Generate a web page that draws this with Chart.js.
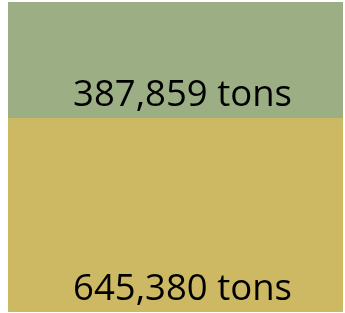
<!DOCTYPE html>
<html>
<head>
<meta charset="utf-8">
<script src="https://cdn.jsdelivr.net/npm/chart.js@4"></script>
<style>
  html, body { margin: 0; padding: 0; background: #fff; }
  #wrap { width: 345px; height: 313px; position: relative; }
</style>
</head>
<body>
<div id="wrap"><canvas id="chart"></canvas></div>
<script>
// data
const categories = ['Total'];
const seriesNames = ['Bottom', 'Top'];
const bottomValues = [645380];
const topValues = [387859];
const unit = 'tons';

const colors = ['#cdb964', '#9caf84'];
const total = bottomValues[0] + topValues[0];

// draw the value label near the bottom of each segment
const segmentLabels = {
    id: 'segmentLabels',
    afterDatasetsDraw(chart) {
        const ctx = chart.ctx;
        ctx.save();
        ctx.fillStyle = '#000';
        ctx.font = '36.5px "Open Sans"';
        ctx.textAlign = 'center';
        ctx.textBaseline = 'alphabetic';
        chart.data.datasets.forEach((ds, i) => {
            const meta = chart.getDatasetMeta(i);
            meta.data.forEach((bar, j) => {
                const txt = ds.data[j].toLocaleString('en-US') + ' ' + unit;
                ctx.fillText(txt, bar.x + 7, bar.base - 12);
            });
        });
        ctx.restore();
    }
};

new Chart(document.getElementById('chart'), {
    type: 'bar',
    data: {
        labels: categories,
        datasets: [
            { label: seriesNames[0], data: bottomValues, backgroundColor: colors[0], barPercentage: 1, categoryPercentage: 1 },
            { label: seriesNames[1], data: topValues, backgroundColor: colors[1], barPercentage: 1, categoryPercentage: 1 }
        ]
    },
    options: {
        responsive: true,
        maintainAspectRatio: false,
        animation: false,
        layout: { padding: { left: 8, right: 2, top: 2, bottom: 1 } },
        plugins: { legend: { display: false }, tooltip: { enabled: false } },
        scales: {
            x: { stacked: true, display: false },
            y: { stacked: true, display: false, min: 0, max: total }
        }
    },
    plugins: [segmentLabels]
});
</script>
</body>
</html>
